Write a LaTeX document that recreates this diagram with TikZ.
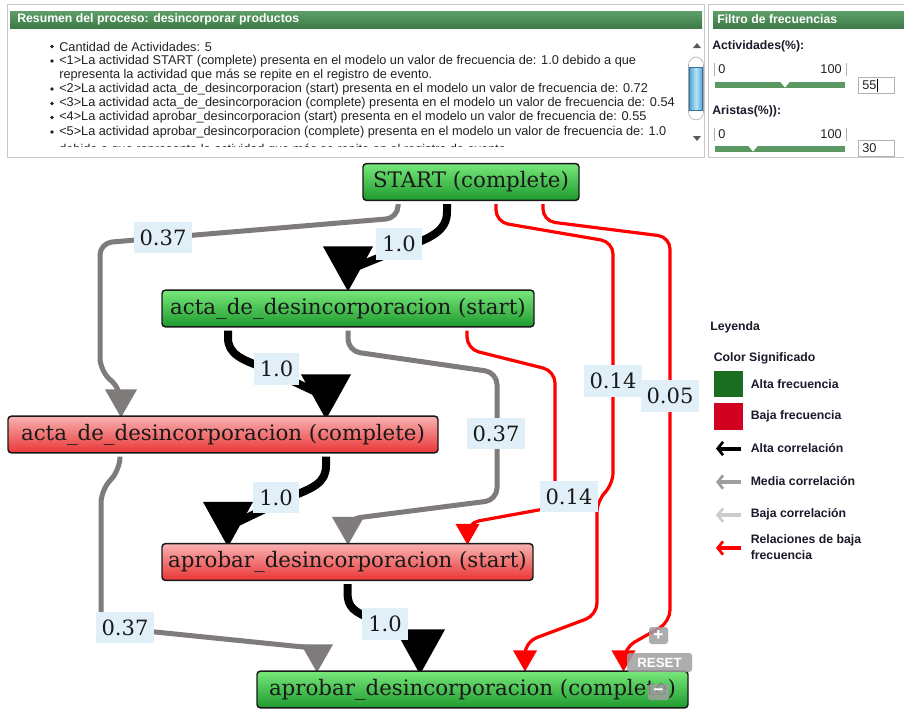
\documentclass[tikz,border=0pt]{standalone}
\usepackage{fontspec}
\setmainfont{DejaVu Serif}
\newfontfamily\uifont{Liberation Sans}
\usetikzlibrary{arrows.meta,calc}
\pgfdeclarelayer{canvas}
\pgfdeclarelayer{edges}
\pgfsetlayers{canvas,edges,main}

\definecolor{hdrtop}{HTML}{5E9E68}
\definecolor{hdrbot}{HTML}{3E7A48}
\definecolor{panelline}{HTML}{C8C8C8}
\definecolor{grntop}{HTML}{78E87A}
\definecolor{grnbot}{HTML}{1E9A2E}
\definecolor{redtop}{HTML}{F9B2B2}
\definecolor{redbot}{HTML}{EA3535}
\definecolor{lblfill}{HTML}{E1F0F8}
\definecolor{edgegray}{HTML}{7F7B7A}
\definecolor{edgered}{HTML}{FF0000}
\definecolor{slidergreen}{HTML}{5A9A62}
\definecolor{legendtext}{HTML}{1A1A2A}
\definecolor{swgreen}{HTML}{1B6E21}
\definecolor{swred}{HTML}{D0021F}
\definecolor{sbblue}{HTML}{4FA6DC}
\definecolor{sblight}{HTML}{B8E2F6}
\definecolor{uitext}{HTML}{222222}

\tikzset{
  act/.style={draw=black!90, line width=1.1pt, rounded corners=2.5pt,
    minimum height=27.5pt, inner sep=0pt,
    font=\fontsize{16}{19}\selectfont, text=black!90},
  hi/.style={act, top color=grntop, bottom color=grnbot},
  lo/.style={act, top color=redtop, bottom color=redbot},
  flow/.style={fill=lblfill, inner xsep=4.5pt, inner ysep=0pt,
    minimum height=23.5pt, font=\fontsize{15.8}{19}\selectfont, text=black!90},
  ek/.style={line width=6pt, black, line join=round},
  eg/.style={line width=3.75pt, edgegray, rounded corners=9pt},
  er/.style={line width=2.4pt, edgered, rounded corners=9pt},
  ui/.style={font=\uifont\fontsize{9.55}{12}\selectfont, text=uitext, inner sep=0pt, anchor=west},
  uib/.style={font=\uifont\bfseries\fontsize{9.2}{11}\selectfont, text=legendtext, inner sep=0pt, anchor=west},
  hdr/.style={font=\uifont\bfseries\fontsize{9.2}{11}\selectfont, text=white, inner sep=0pt, anchor=west},
  ctl/.style={fill=gray!75, fill opacity=0.85, text opacity=1, text=white,
    rounded corners=2pt, inner sep=0pt, font=\uifont\bfseries\fontsize{10}{12}\selectfont},
  pics/headK/.style={code={\fill[black] (-25,-45) -- (25,-45) -- (0,0) -- cycle;}},
  pics/headG/.style={code={\fill[edgegray] (-16,-28) -- (16,-28) -- (0,0) -- cycle;}},
  pics/headR/.style={code={\fill[edgered] (-12,-21) -- (12,-21) -- (0,0) -- cycle;}},
}

\begin{document}
\begin{tikzpicture}[x=0.75pt,y=-0.75pt]
\useasboundingbox (0,0) rectangle (904,708);
\begin{pgfonlayer}{canvas}
  \fill[white] (0,0) rectangle (904,708);
\end{pgfonlayer}

% ---------- summary panel ----------
\draw[panelline] (7.5,4.5) rectangle (704.5,157.5);
\shade[top color=hdrtop, bottom color=hdrbot] (10,11) rectangle (702,28);
\node[hdr] (sumtitle) at (17,19.5) {Resumen del proceso: desincorporar productos};
\begin{scope}
  \clip (10,30) rectangle (684,146.5);
  \foreach \yy in {46.5,61,89,103.5,117.5,132} {\fill[uitext] (52,\yy) circle (1.9);}
  \node[ui] (li1) at (59,46.5) {Cantidad de Actividades: 5};
  \node[ui] (li2) at (59,61) {<1>La actividad START (complete) presenta en el modelo un valor de frecuencia de: 1.0 debido a que};
  \node[ui] (li2b) at (59,75) {representa la actividad que más se repite en el registro de evento.};
  \node[ui] (li3) at (59,89) {<2>La actividad acta\_de\_desincorporacion (start) presenta en el modelo un valor de frecuencia de: 0.72};
  \node[ui] (li4) at (59,103.5) {<3>La actividad acta\_de\_desincorporacion (complete) presenta en el modelo un valor de frecuencia de: 0.54};
  \node[ui] (li5) at (59,117.5) {<4>La actividad aprobar\_desincorporacion (start) presenta en el modelo un valor de frecuencia de: 0.55};
  \node[ui] (li6) at (59,132) {<5>La actividad aprobar\_desincorporacion (complete) presenta en el modelo un valor de frecuencia de: 1.0};
  \node[ui] (li6b) at (59,150) {debido a que representa la actividad que más se repite en el registro de evento.};
\end{scope}
% scrollbar
\fill[black!65] (693,48) -- (701,48) -- (697,43) -- cycle;
\fill[black!65] (693,136) -- (701,136) -- (697,141) -- cycle;
\draw[gray!70, fill=white, rounded corners=6] (688.5,57) rectangle (703.5,120);
\shade[left color=sbblue, right color=sbblue, middle color=sblight] (689.5,67) rectangle (702.5,110);
\draw[sbblue!70!black, line width=0.4pt] (689.5,67) rectangle (702.5,110);

% ---------- frequency filter panel ----------
\draw[panelline] (708.5,4.5) rectangle (910,157.5);
\shade[top color=hdrtop, bottom color=hdrbot] (713,11) rectangle (906,28);
\node[hdr] (filtitle) at (717,19.5) {Filtro de frecuencias};

\node[uib] (actlbl) at (712,46) {Actividades(\%):};
\draw[gray!60, line width=0.6pt] (714.5,63) -- (714.5,76) (846.5,63) -- (846.5,76);
\node[ui] (a0) at (718,69.5) {0};
\node[ui, anchor=east] (a100) at (842,69.5) {100};
\fill[slidergreen] (715,82) rectangle (845,87.5);
\fill[white] (780,81.5) -- (790,81.5) -- (785,87.5) -- cycle;
\draw[gray!60, fill=white] (858.5,77.5) rectangle (894.5,93);
\node[ui] (aval) at (862,85.5) {55};
\draw[black, line width=0.6pt] (877.5,78.5) -- (877.5,92);

\node[uib] (arilbl) at (712,111) {Aristas(\%)):};
\draw[gray!60, line width=0.6pt] (714.5,128) -- (714.5,141) (846.5,128) -- (846.5,141);
\node[ui] (r0) at (718,134.5) {0};
\node[ui, anchor=east] (r100) at (842,134.5) {100};
\fill[slidergreen] (715,146) rectangle (845,151.5);
\fill[white] (748,145.5) -- (758,145.5) -- (753,151.5) -- cycle;
\draw[gray!60, fill=white] (858.5,140.5) rectangle (894.5,156);
\node[ui] (rval) at (862,148.5) {30};

% ---------- process graph ----------
\node[hi, minimum width=162pt]    (S)  at (471,182)     {START (complete)};
\node[hi, minimum width=279pt]    (AS) at (348,308.5)   {acta\_de\_desincorporacion (start)};
\node[lo, minimum width=322.5pt]  (AC) at (223,434.5)   {acta\_de\_desincorporacion (complete)};
\node[lo, minimum width=278.25pt] (PS) at (347.5,562)   {aprobar\_desincorporacion (start)};
\node[hi, minimum width=323.25pt] (PC) at (472.5,689.5) {aprobar\_desincorporacion (complete)};

\begin{pgfonlayer}{edges}
  % START -> acta start
  \draw[ek] ($(S.south)+(-24,3)$) -- (447,212) .. controls (447,230) and (432,238) .. (405,247) -- (356,267);
  \pic at ($(AS.north)+(0,2)$) {headK};
  % START -> acta complete
  \draw[eg] ($(S.south)+(-73,3)$) -- (398,218) -- (100,243) -- (100,370) -- (121,390) -- (121,398);
  \pic at ($(AC.north)+(-102,2)$) {headG};
  % acta start -> acta complete
  \draw[ek] ($(AS.south)+(-120,3)$) -- (228,338) .. controls (228,354) and (242,360) .. (265,368) -- (318,393);
  \pic at ($(AC.north)+(103,4)$) {headK};
  % acta start -> aprobar start (gray)
  \draw[eg] ($(AS.south)+(0,3)$) -- (348,351) -- (497,372.5) -- (497,500) -- (348,519) -- (348,527);
  \pic at ($(PS.north)+(0.5,2)$) {headG};
  % acta start -> aprobar start (red)
  \draw[er] ($(AS.south)+(119,3)$) -- (467,349) -- (555,371) -- (555,507) -- (467,523) -- (467,532);
  \pic at ($(PS.north)+(120,2)$) {headR};
  % START -> aprobar complete (0.14)
  \draw[er] ($(S.south)+(25,3)$) -- (496,222) -- (613,242) -- (613,485) -- (597,500) -- (597,615) -- (525,642) -- (525,658);
  \pic at ($(PC.north)+(52.5,1)$) {headR};
  % START -> aprobar complete (0.05)
  \draw[er] ($(S.south)+(72,3)$) -- (543,221) -- (670,237) -- (670,622) -- (624,648) -- (624,658);
  \pic at ($(PC.north)+(151,1)$) {headR};
  % acta complete -> aprobar start
  \draw[ek] ($(AC.south)+(103,3)$) -- (326,466) .. controls (326,482) and (314,488) .. (290,497) -- (238,522);
  \pic at ($(PS.north)+(-119.5,4)$) {headK};
  % acta complete -> aprobar complete
  \draw[eg] ($(AC.south)+(-103,3)$) -- (120,469) -- (101,491) -- (101,626.5) -- (317,648.4) -- (317,656);
  \pic at ($(PC.north)+(-155.5,2)$) {headG};
  % aprobar start -> aprobar complete
  \draw[ek] ($(PS.south)+(0,3)$) -- (347.5,593) .. controls (347.5,607) and (354,612) .. (372,619) -- (412,640);
  \pic at ($(PC.north)+(-52.5,4)$) {headK};
\end{pgfonlayer}

% edge weights
\node[flow] (w1)  at (399,244)   {1.0};
\node[flow] (w2)  at (163,237.5) {0.37};
\node[flow] (w3)  at (276.5,369) {1.0};
\node[flow] (w4)  at (496,433.5) {0.37};
\node[flow] (w5)  at (569,496.5) {0.14};
\node[flow] (w6)  at (613,381)   {0.14};
\node[flow] (w7)  at (670,396)   {0.05};
\node[flow] (w8)  at (276,497.5) {1.0};
\node[flow] (w9)  at (125,627.5) {0.37};
\node[flow] (w10) at (385,624)   {1.0};

% zoom controls
\node[ctl, minimum width=14.25pt, minimum height=12.75pt, font=\uifont\bfseries\fontsize{13}{13}\selectfont] (zin) at (658.5,635.5) {+};
\node[ctl, minimum width=48.75pt, minimum height=14.25pt] (zreset) at (659.5,662.5) {RESET};
\node[ctl, minimum width=15.75pt, minimum height=12pt, font=\uifont\bfseries\fontsize{13}{13}\selectfont] (zout) at (658.5,692) {\textminus};

% ---------- legend ----------
\node[uib] (legtitle) at (710,327) {Leyenda};
\node[uib] (legcols) at (713.5,358) {Color Significado};
\fill[swgreen] (714,371) rectangle (743,397);
\fill[swred] (714,403) rectangle (743,430);
\node[uib] (lg1) at (750.5,384) {Alta frecuencia};
\node[uib] (lg2) at (750.5,416) {Baja frecuencia};
\draw[black, line width=3pt, -{Straight Barb[length=4pt,width=10pt,line width=2pt]}] (741,448.5) -- (716,448.5);
\node[uib] (lg3) at (750.5,448.5) {Alta correlación};
\draw[black!38, line width=3pt, -{Straight Barb[length=4pt,width=10pt,line width=2pt]}] (741,482) -- (716,482);
\node[uib] (lg4) at (750.5,481.5) {Media correlación};
\draw[black!20, line width=3pt, -{Straight Barb[length=4pt,width=10pt,line width=2pt]}] (741,515) -- (716,515);
\node[uib] (lg5) at (750.5,514.5) {Baja correlación};
\draw[edgered, line width=3pt, -{Straight Barb[length=4pt,width=10pt,line width=2pt]}] (741,548) -- (716,548);
\node[uib] (lg6) at (750.5,540) {Relaciones de baja};
\node[uib] (lg6b) at (750.5,555.5) {frecuencia};
\end{tikzpicture}
\end{document}
